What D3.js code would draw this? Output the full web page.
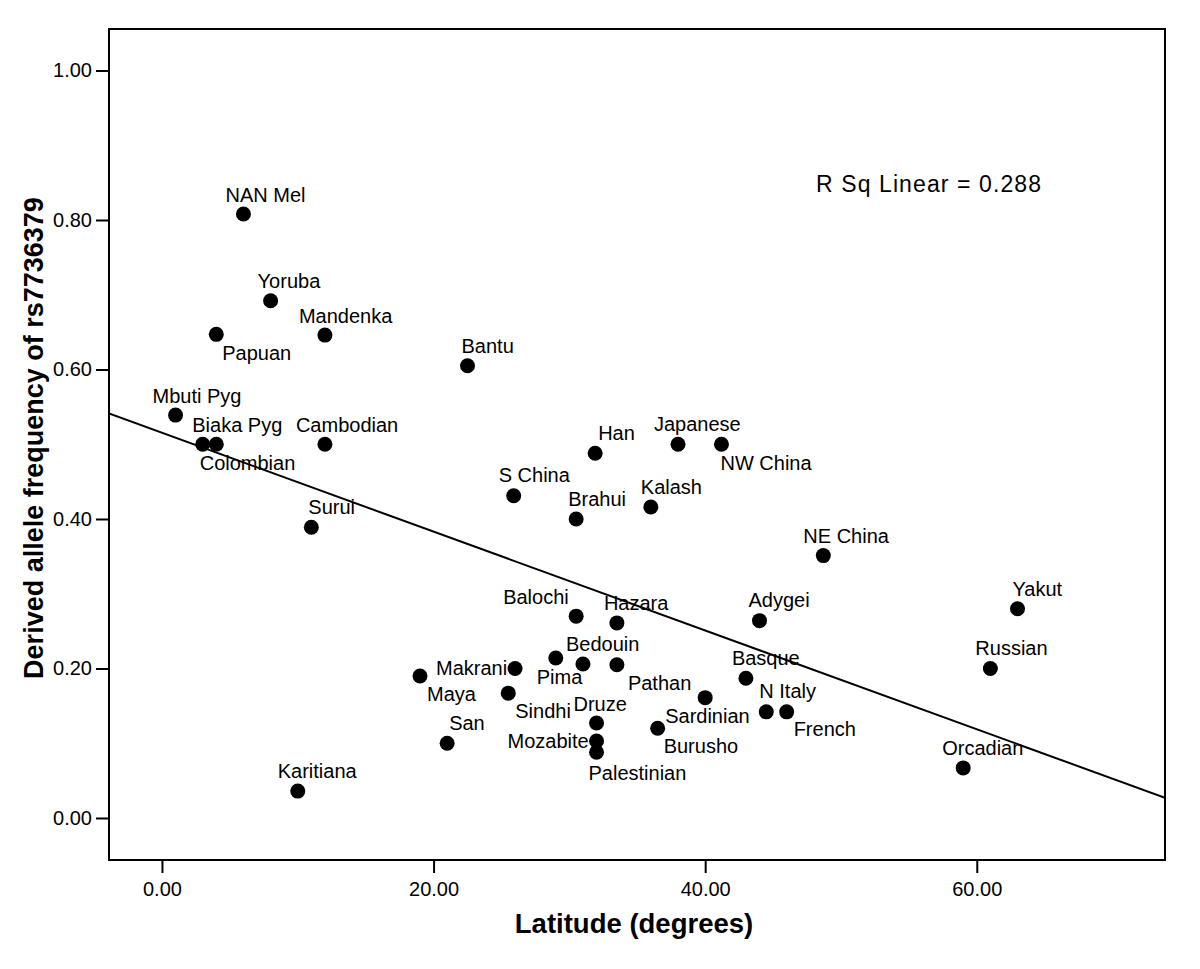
<!DOCTYPE html>
<html>
<head>
<meta charset="utf-8">
<script src="https://cdn.jsdelivr.net/npm/d3@7"></script>
<style>
    body { margin: 0; background: #fff; }
    text { font-family: "Liberation Sans", Arial, Helvetica, sans-serif; fill: #000; }
</style>
</head>
<body>
<div class="graphContainer"></div>
<script>
// Populations, latitude (degrees) and derived allele frequency of rs7736379
const populations = ["NAN Mel", "Yoruba", "Papuan", "Mandenka", "Bantu", "Mbuti Pyg", "Biaka Pyg", "Colombian",
    "Cambodian", "Surui", "S China", "Han", "Japanese", "NW China", "Brahui", "Kalash", "NE China", "Yakut",
    "Russian", "Orcadian", "Adygei", "Basque", "N Italy", "French", "Pathan", "Sardinian", "Burusho", "Hazara",
    "Balochi", "Bedouin", "Pima", "Makrani", "Maya", "Sindhi", "Druze", "Mozabite", "Palestinian", "San", "Karitiana"];

const latitude = [6, 8, 4, 12, 22.5, 1, 4, 3,
    12, 11, 25.9, 31.9, 38, 41.2, 30.5, 36, 48.7, 63,
    61, 59, 44, 43, 44.5, 46, 33.5, 40, 36.5, 33.5,
    30.5, 31, 29, 26, 19, 25.5, 32, 32, 32, 21, 10];

const alleleFreq = [0.808, 0.692, 0.647, 0.646, 0.605, 0.539, 0.500, 0.500,
    0.500, 0.389, 0.431, 0.488, 0.500, 0.500, 0.400, 0.416, 0.351, 0.280,
    0.200, 0.067, 0.264, 0.187, 0.142, 0.142, 0.205, 0.161, 0.120, 0.261,
    0.270, 0.206, 0.214, 0.200, 0.190, 0.167, 0.127, 0.103, 0.088, 0.100, 0.036];

const xTicks = [0, 20, 40, 60];
const yTicks = [0, 0.2, 0.4, 0.6, 0.8, 1.0];
const rSquaredLabel = "R Sq Linear = 0.288";

// Label offsets relative to the dot (text start, baseline)
const labelOffsets = {
    "NAN Mel": [-18, -12], "Yoruba": [-13, -13], "Papuan": [6, 26], "Mandenka": [-26, -12],
    "Bantu": [-6, -13], "Mbuti Pyg": [-23, -12], "Biaka Pyg": [-24, -12], "Colombian": [-3, 26],
    "Cambodian": [-29, -12], "Surui": [-3, -13], "S China": [-15, -14], "Han": [3, -13],
    "Japanese": [-24, -13], "NW China": [-1, 26], "Brahui": [-8, -13], "Kalash": [-10, -13],
    "NE China": [-20, -13], "Yakut": [-5, -13], "Russian": [-15, -13], "Orcadian": [-21, -13],
    "Adygei": [-11, -14], "Basque": [-14, -13], "N Italy": [-7, -14], "French": [7, 24],
    "Pathan": [11, 25], "Sardinian": [-40, 25], "Burusho": [6, 25], "Hazara": [-13, -13],
    "Balochi": [-73, -12], "Bedouin": [-17, -13], "Pima": [-19, 26], "Makrani": [-79, 7],
    "Maya": [7, 25], "Sindhi": [7, 25], "Druze": [-23, -12], "Mozabite": [-89, 7],
    "Palestinian": [-8, 28], "San": [2, -13], "Karitiana": [-20, -13]
};

const data = populations.map((name, i) => ({ name: name, x: latitude[i], y: alleleFreq[i] }));

// Least squares fit
function linearFit(points) {
    const mx = d3.mean(points, d => d.x);
    const my = d3.mean(points, d => d.y);
    let sxy = 0, sxx = 0;
    points.forEach(d => {
        sxy += (d.x - mx) * (d.y - my);
        sxx += (d.x - mx) * (d.x - mx);
    });
    const slope = sxy / sxx;
    return { slope: slope, intercept: my - slope * mx };
}

const margin = { top: 29, right: 35, bottom: 109, left: 109 },
    width = 1200 - margin.left - margin.right,
    height = 969 - margin.top - margin.bottom;

const xScale = d3.scaleLinear()
    .domain([-3.9, 73.86])
    .range([0, width]);

const yScale = d3.scaleLinear()
    .domain([-0.0562, 1.0555])
    .range([height, 0]);

const svg = d3.select('.graphContainer')
    .append("svg")
    .attr("width", 1200)
    .attr("height", 969)
    .append("g")
    .attr("transform", "translate(" + margin.left + "," + margin.top + ")");

svg.append("defs").append("clipPath")
    .attr("id", "plotClip")
    .append("rect")
    .attr("width", width)
    .attr("height", height);

// Axes
const xAxis = svg.append("g")
    .attr("transform", "translate(0," + height + ")")
    .call(d3.axisBottom(xScale)
        .tickValues(xTicks)
        .tickSize(13)
        .tickSizeOuter(0)
        .tickPadding(9)
        .tickFormat(d3.format(".2f")));

const yAxis = svg.append("g")
    .call(d3.axisLeft(yScale)
        .tickValues(yTicks)
        .tickSize(13)
        .tickSizeOuter(0)
        .tickPadding(4)
        .tickFormat(d3.format(".2f")));

[xAxis, yAxis].forEach(ax => {
    ax.select(".domain").remove();
    ax.selectAll(".tick line").attr("stroke", "#000").attr("stroke-width", 2);
    ax.selectAll(".tick text")
        .style("font-size", "20px")
        .style("font-family", "'Liberation Sans', Arial, sans-serif");
});

// Plot frame
svg.append("rect")
    .attr("width", width)
    .attr("height", height)
    .attr("fill", "none")
    .attr("stroke", "#000")
    .attr("stroke-width", 2);

// Fit line
const fit = linearFit(data);
const xDomain = xScale.domain();
svg.append("line")
    .attr("clip-path", "url(#plotClip)")
    .attr("x1", xScale(xDomain[0]))
    .attr("y1", yScale(fit.intercept + fit.slope * xDomain[0]))
    .attr("x2", xScale(xDomain[1]))
    .attr("y2", yScale(fit.intercept + fit.slope * xDomain[1]))
    .attr("stroke", "#000")
    .attr("stroke-width", 2);

// Dots
svg.selectAll("circle.dot")
    .data(data)
    .enter()
    .append("circle")
    .attr("class", "dot")
    .attr("cx", d => xScale(d.x))
    .attr("cy", d => yScale(d.y))
    .attr("r", 7.5)
    .attr("fill", "#000");

// Point labels
svg.selectAll("text.label")
    .data(data)
    .enter()
    .append("text")
    .attr("class", "label")
    .attr("x", d => xScale(d.x) + labelOffsets[d.name][0])
    .attr("y", d => yScale(d.y) + labelOffsets[d.name][1])
    .style("font-size", "20px")
    .text(d => d.name);

// R squared annotation
svg.append("text")
    .attr("x", 816 - margin.left)
    .attr("y", 192 - margin.top)
    .style("font-size", "23px")
    .style("letter-spacing", "1.1px")
    .text(rSquaredLabel);

// Axis titles
svg.append("text")
    .attr("x", width / 2 - 3)
    .attr("y", 933 - margin.top)
    .style("text-anchor", "middle")
    .style("font-size", "27.5px")
    .style("font-weight", "bold")
    .text("Latitude (degrees)");

svg.append("text")
    .attr("transform", "translate(" + (43 - margin.left) + "," + (438 - margin.top) + ") rotate(-90)")
    .style("text-anchor", "middle")
    .style("font-size", "27px")
    .style("font-weight", "bold")
    .text("Derived allele frequency of rs7736379");
</script>
</body>
</html>
